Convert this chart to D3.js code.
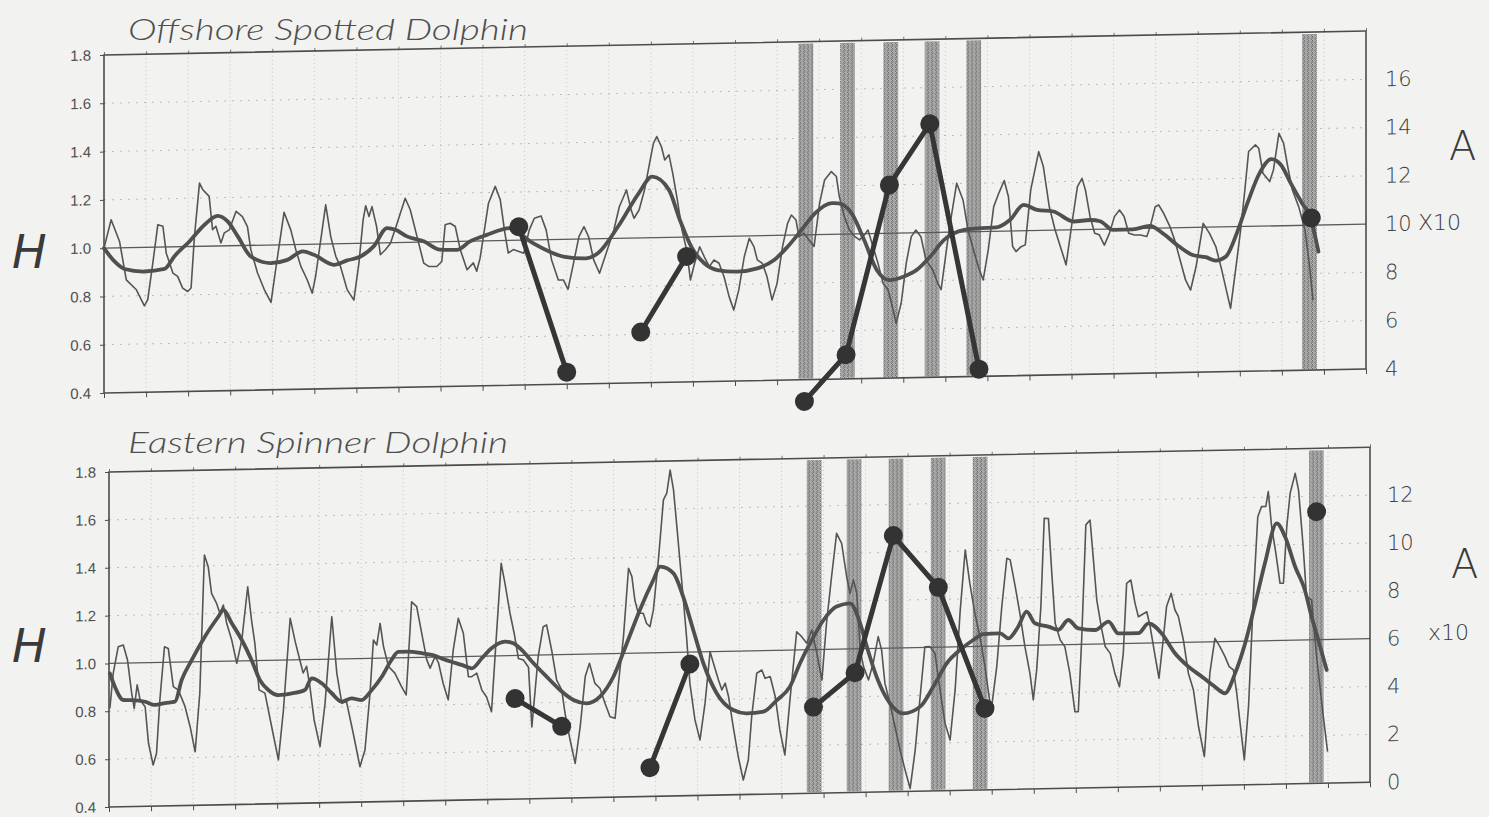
<!DOCTYPE html>
<html><head><meta charset="utf-8">
<script src="https://cdn.jsdelivr.net/npm/d3@7"></script>
<style>
html,body{margin:0;padding:0;background:#f2f2f0;}
svg{display:block;}
</style></head><body>
<svg id="chart" width="1489" height="817"></svg>
<script>
// ---------------- DATA (t = years from start of record, H = index) ----------------
const yTicks = [0.4, 0.6, 0.8, 1.0, 1.2, 1.4, 1.6, 1.8];
const gridH = [0.6, 0.8, 1.2, 1.4, 1.6];
const yearTicks = d3.range(0, 31);
const rightTicksTop = [4, 6, 8, 10, 12, 14, 16];
const rightTicksBottom = [0, 2, 4, 6, 8, 10, 12];
const bandStartsTop = [16.51, 17.5, 18.53, 19.51, 20.5, 28.48];
const bandStartsBottom = [16.6, 17.55, 18.55, 19.55, 20.55, 28.55];
const bandWidth = 0.35;

// Offshore spotted dolphin: monthly index (thin)
const spottedMonthly = [[0,1.00],[0.17,1.117],[0.37,1.026],[0.53,0.867],[0.77,0.825],[0.96,0.758],[1.04,0.783],[1.16,0.934],[1.28,1.093],[1.40,1.086],[1.48,0.974],[1.64,0.891],[1.75,0.877],[1.87,0.828],[1.99,0.814],[2.07,0.828],[2.15,1.041],[2.27,1.262],[2.35,1.234],[2.50,1.206],[2.58,1.068],[2.66,1.082],[2.78,1.012],[2.86,1.054],[2.98,1.066],[3.14,1.142],[3.29,1.12],[3.41,1.078],[3.49,0.982],[3.65,0.885],[3.81,0.816],[3.97,0.762],[4.08,0.897],[4.28,1.134],[4.44,1.061],[4.56,0.978],[4.68,0.909],[4.83,0.853],[4.95,0.797],[5.03,0.866],[5.27,1.162],[5.39,1.03],[5.51,0.948],[5.62,0.906],[5.78,0.809],[5.94,0.765],[6.06,0.918],[6.16,1.097],[6.22,1.155],[6.30,1.11],[6.37,1.151],[6.48,1.068],[6.57,0.951],[6.69,0.971],[6.81,0.998],[6.97,1.081],[7.16,1.183],[7.28,1.135],[7.44,1.024],[7.60,0.913],[7.72,0.899],[7.91,0.898],[8.03,0.918],[8.11,1.07],[8.23,1.076],[8.35,1.062],[8.47,0.965],[8.63,0.882],[8.78,0.91],[8.86,0.875],[8.94,0.929],[9.02,1.019],[9.14,1.156],[9.30,1.225],[9.42,1.169],[9.53,1.031],[9.61,0.948],[9.73,0.962],[9.98,0.946],[10.11,1.042],[10.23,1.09],[10.39,1.099],[10.51,1.041],[10.64,0.916],[10.80,0.832],[10.92,0.832],[11.03,0.793],[11.16,0.90],[11.29,1.01],[11.41,1.051],[11.52,1.009],[11.64,0.913],[11.78,0.857],[11.91,0.925],[12.12,1.035],[12.25,1.131],[12.42,1.20],[12.53,1.117],[12.60,1.082],[12.72,1.116],[12.85,1.199],[12.97,1.309],[13.06,1.391],[13.14,1.419],[13.25,1.377],[13.33,1.321],[13.43,1.342],[13.52,1.265],[13.63,1.154],[13.74,1.03],[13.85,0.947],[13.94,0.822],[14.04,0.891],[14.16,0.959],[14.27,0.917],[14.39,0.876],[14.50,0.903],[14.62,0.889],[14.74,0.833],[14.86,0.75],[14.97,0.694],[15.09,0.777],[15.22,0.914],[15.34,0.99],[15.45,0.955],[15.53,0.90],[15.65,0.885],[15.76,0.83],[15.88,0.733],[16.0,0.801],[16.13,0.953],[16.25,1.049],[16.34,1.083],[16.45,1.062],[16.52,0.993],[16.64,1.007],[16.76,0.978],[16.88,0.951],[17.01,1.129],[17.13,1.226],[17.29,1.26],[17.41,1.239],[17.48,1.156],[17.60,1.072],[17.72,1.017],[17.84,0.99],[17.96,0.975],[18.08,0.996],[18.16,1.015],[18.28,0.946],[18.40,0.876],[18.52,0.793],[18.64,0.765],[18.76,0.682],[18.83,0.626],[18.95,0.709],[19.07,0.874],[19.19,0.984],[19.30,1.011],[19.42,0.983],[19.54,0.886],[19.70,0.845],[19.82,0.789],[19.90,0.762],[20.09,1.009],[20.27,1.202],[20.42,1.132],[20.54,1.007],[20.69,0.91],[20.81,0.841],[20.90,0.799],[21.02,0.923],[21.15,1.102],[21.27,1.157],[21.40,1.209],[21.50,1.142],[21.60,0.935],[21.68,0.914],[21.80,0.934],[21.90,0.941],[22.03,1.168],[22.22,1.326],[22.33,1.264],[22.47,1.098],[22.61,1.0],[22.76,0.917],[22.87,0.855],[23.01,1.027],[23.14,1.178],[23.25,1.212],[23.33,1.164],[23.44,1.053],[23.55,0.984],[23.66,0.977],[23.78,0.934],[23.90,0.982],[24.02,1.051],[24.14,1.078],[24.25,1.051],[24.36,0.981],[24.48,0.974],[24.64,0.973],[24.79,0.966],[24.87,1.007],[24.99,1.089],[25.07,1.096],[25.19,1.061],[25.34,1.005],[25.45,0.95],[25.56,0.88],[25.71,0.783],[25.83,0.741],[25.96,0.837],[26.13,1.016],[26.28,0.974],[26.43,0.919],[26.57,0.822],[26.68,0.738],[26.78,0.662],[26.92,0.848],[27.02,0.986],[27.12,1.151],[27.21,1.31],[27.37,1.337],[27.45,1.323],[27.55,1.219],[27.71,1.184],[27.80,1.232],[27.93,1.383],[28.04,1.342],[28.14,1.244],[28.25,1.147],[28.40,1.078],[28.55,0.981],[28.65,0.842],[28.74,0.69]];

// Offshore spotted dolphin: smoothed index (thick)
const spottedSmooth = [[0,1.0],[0.25,0.944],[0.49,0.912],[0.96,0.90],[1.44,0.909],[1.67,0.96],[2.03,1.021],[2.39,1.089],[2.70,1.125],[2.94,1.101],[3.18,1.038],[3.49,0.954],[3.97,0.925],[4.36,0.937],[4.72,0.971],[4.99,0.956],[5.47,0.913],[5.78,0.93],[6.10,0.945],[6.41,0.986],[6.73,1.061],[6.93,1.053],[7.20,1.025],[7.60,1.003],[7.99,0.967],[8.39,0.965],[8.70,0.999],[9.10,1.025],[9.65,1.051],[10.17,0.99],[10.95,0.928],[11.46,0.92],[11.74,0.94],[12.22,1.049],[12.71,1.185],[13.03,1.253],[13.43,1.197],[13.69,1.071],[13.96,0.96],[14.27,0.89],[14.58,0.861],[15.05,0.853],[15.53,0.865],[15.93,0.898],[16.25,0.952],[16.58,1.02],[16.90,1.088],[17.30,1.129],[17.46,1.128],[17.77,1.086],[18.07,0.974],[18.37,0.849],[18.68,0.806],[19.0,0.819],[19.32,0.846],[19.64,0.90],[19.97,0.968],[20.45,1.008],[20.76,1.013],[21.22,1.016],[21.54,1.046],[21.86,1.107],[22.18,1.085],[22.57,1.077],[23.05,1.034],[23.44,1.039],[23.68,1.033],[23.99,0.996],[24.46,0.997],[24.86,1.01],[25.17,0.978],[25.56,0.922],[25.88,0.886],[26.19,0.876],[26.43,0.861],[26.67,0.877],[26.93,0.973],[27.18,1.096],[27.47,1.22],[27.75,1.277],[27.98,1.252],[28.21,1.176],[28.48,1.092],[28.67,1.036],[28.87,0.89]];

// Offshore spotted dolphin: abundance A (x10), survey groups
const spottedAbundance = [
  [[9.86,10.56],[11.0,4.5]],
  [[12.76,6.1],[13.85,9.2]],
  [[16.65,3.1],[17.64,5.0],[18.67,12.0],[19.63,14.5],[20.8,4.3]],
  [[28.7,10.3]]
];

// Eastern spinner dolphin: monthly index (thin)
const spinnerMonthly = [[0.02,0.812],[0.10,0.958],[0.22,1.069],[0.34,1.076],[0.44,1.013],[0.54,0.873],[0.60,0.81],[0.67,0.908],[0.74,0.845],[0.86,0.816],[0.94,0.663],[1.05,0.572],[1.13,0.62],[1.21,0.843],[1.32,1.065],[1.41,1.058],[1.53,0.898],[1.65,0.883],[1.81,0.813],[1.93,0.729],[2.05,0.624],[2.16,0.868],[2.27,1.445],[2.36,1.396],[2.44,1.284],[2.56,1.242],[2.64,1.20],[2.72,1.235],[2.80,1.158],[2.92,1.088],[3.04,0.99],[3.16,1.087],[3.30,1.309],[3.39,1.17],[3.47,1.072],[3.57,0.877],[3.71,0.863],[3.87,0.722],[4.03,0.583],[4.15,0.791],[4.31,1.174],[4.43,1.076],[4.54,0.999],[4.62,0.944],[4.70,0.972],[4.78,0.886],[4.88,0.747],[5.02,0.635],[5.14,0.816],[5.30,1.177],[5.42,0.94],[5.54,0.814],[5.65,0.821],[5.81,0.688],[5.97,0.548],[6.09,0.617],[6.21,0.854],[6.29,1.076],[6.37,1.055],[6.45,1.145],[6.53,1.048],[6.65,0.964],[6.80,0.936],[6.96,0.879],[7.07,0.844],[7.12,0.99],[7.20,1.233],[7.32,1.212],[7.44,1.10],[7.56,0.989],[7.64,0.954],[7.76,1.003],[7.84,0.975],[7.95,0.889],[8.07,0.82],[8.19,1.028],[8.31,1.16],[8.43,1.097],[8.55,0.915],[8.63,0.915],[8.75,0.929],[8.87,0.858],[8.98,0.83],[9.10,0.767],[9.22,1.094],[9.33,1.386],[9.42,1.302],[9.54,1.177],[9.64,1.092],[9.74,0.987],[9.86,0.98],[9.98,0.95],[10.06,0.70],[10.21,0.993],[10.33,1.118],[10.41,1.125],[10.53,1.02],[10.65,0.894],[10.77,0.852],[10.85,0.754],[10.97,0.642],[11.09,0.544],[11.21,0.697],[11.33,0.906],[11.43,0.961],[11.56,0.877],[11.68,0.856],[11.80,0.793],[11.92,0.736],[12.04,0.729],[12.12,0.875],[12.24,1.07],[12.36,1.355],[12.44,1.32],[12.51,1.222],[12.59,1.167],[12.71,1.166],[12.79,1.123],[12.87,1.109],[12.95,1.178],[13.07,1.387],[13.19,1.638],[13.27,1.666],[13.35,1.762],[13.43,1.679],[13.51,1.525],[13.63,1.288],[13.74,1.065],[13.82,0.869],[13.94,0.716],[14.06,0.632],[14.18,0.784],[14.30,1.0],[14.38,0.951],[14.50,0.881],[14.58,0.839],[14.66,0.867],[14.74,0.81],[14.85,0.685],[14.97,0.559],[15.09,0.461],[15.21,0.544],[15.29,0.725],[15.41,0.906],[15.53,0.919],[15.61,0.884],[15.73,0.891],[15.85,0.807],[15.96,0.667],[16.08,0.562],[16.20,0.791],[16.36,1.076],[16.48,1.055],[16.60,1.027],[16.72,1.082],[16.84,0.984],[16.96,0.872],[17.07,1.109],[17.19,1.303],[17.31,1.484],[17.43,1.442],[17.55,1.302],[17.63,1.232],[17.71,1.288],[17.79,1.232],[17.87,0.995],[17.95,0.925],[18.07,0.869],[18.18,0.938],[18.30,1.049],[18.38,0.993],[18.46,0.853],[18.58,0.769],[18.70,0.671],[18.82,0.573],[18.94,0.489],[19.06,0.412],[19.18,0.572],[19.29,0.781],[19.41,1.003],[19.53,1.003],[19.65,0.975],[19.77,0.821],[19.89,0.681],[20.01,0.611],[20.13,0.82],[20.25,1.15],[20.37,1.404],[20.48,1.264],[20.60,1.138],[20.72,1.041],[20.84,0.915],[20.96,0.761],[21.0,0.747],[21.12,0.914],[21.24,1.164],[21.36,1.366],[21.44,1.359],[21.56,1.247],[21.67,1.135],[21.79,0.995],[21.91,0.883],[21.99,0.772],[22.07,0.897],[22.17,1.161],[22.25,1.53],[22.35,1.529],[22.43,1.299],[22.51,1.09],[22.63,1.02],[22.74,0.992],[22.86,0.88],[22.98,0.719],[23.06,0.719],[23.14,1.018],[23.24,1.499],[23.34,1.519],[23.42,1.352],[23.50,1.184],[23.62,1.059],[23.70,0.989],[23.82,0.96],[23.93,0.876],[24.04,0.82],[24.13,0.959],[24.21,1.251],[24.31,1.265],[24.41,1.167],[24.49,1.111],[24.69,1.131],[24.77,1.068],[24.89,0.943],[24.98,0.852],[25.08,1.012],[25.16,1.151],[25.27,1.206],[25.36,1.136],[25.44,1.109],[25.56,1.01],[25.68,0.87],[25.80,0.80],[25.92,0.647],[26.06,0.521],[26.19,0.869],[26.31,1.014],[26.43,0.979],[26.55,0.937],[26.65,0.895],[26.75,0.881],[26.83,0.783],[26.91,0.657],[27.01,0.504],[27.11,0.726],[27.23,1.199],[27.33,1.519],[27.42,1.561],[27.52,1.561],[27.58,1.623],[27.66,1.476],[27.76,1.365],[27.86,1.239],[27.94,1.239],[28.02,1.475],[28.10,1.614],[28.22,1.697],[28.30,1.627],[28.41,1.39],[28.49,1.181],[28.61,1.167],[28.73,0.929],[28.81,0.804],[28.89,0.678],[28.99,0.532]];

// Eastern spinner dolphin: smoothed index (thick)
const spinnerSmooth = [[0.02,0.958],[0.14,0.902],[0.34,0.846],[0.54,0.845],[0.86,0.837],[1.09,0.823],[1.33,0.83],[1.57,0.835],[1.73,0.925],[1.97,1.008],[2.28,1.104],[2.6,1.186],[2.72,1.214],[2.92,1.158],[3.16,1.087],[3.39,1.003],[3.59,0.918],[3.79,0.876],[4.03,0.854],[4.35,0.86],[4.66,0.873],[4.82,0.921],[5.06,0.9],[5.3,0.857],[5.54,0.821],[5.77,0.834],[6.01,0.826],[6.25,0.867],[6.49,0.922],[6.72,0.991],[6.88,1.025],[7.12,1.025],[7.44,1.017],[7.68,1.009],[7.91,0.994],[8.15,0.979],[8.39,0.965],[8.63,0.95],[8.87,0.991],[9.1,1.032],[9.42,1.059],[9.62,1.051],[9.78,1.029],[10.1,0.966],[10.41,0.909],[10.73,0.852],[11.05,0.809],[11.37,0.794],[11.68,0.821],[12.0,0.903],[12.32,1.042],[12.63,1.18],[12.95,1.304],[13.11,1.359],[13.43,1.33],[13.66,1.232],[13.9,1.092],[14.14,0.952],[14.46,0.825],[14.85,0.754],[15.17,0.739],[15.57,0.745],[15.89,0.792],[16.2,0.847],[16.44,0.944],[16.68,1.027],[17.0,1.123],[17.31,1.178],[17.63,1.19],[17.87,1.106],[18.03,1.008],[18.26,0.882],[18.58,0.769],[18.9,0.726],[19.3,0.753],[19.61,0.835],[19.93,0.932],[20.25,0.987],[20.56,1.027],[20.8,1.051],[21.2,1.053],[21.4,1.031],[21.63,1.079],[21.83,1.141],[22.03,1.092],[22.35,1.077],[22.59,1.063],[22.82,1.103],[23.06,1.067],[23.46,1.059],[23.78,1.093],[24.01,1.043],[24.25,1.042],[24.49,1.042],[24.73,1.082],[25.04,1.04],[25.36,0.955],[25.68,0.898],[26.0,0.855],[26.31,0.812],[26.55,0.784],[26.79,0.866],[27.03,0.991],[27.27,1.157],[27.5,1.324],[27.78,1.49],[27.98,1.433],[28.22,1.307],[28.45,1.209],[28.61,1.097],[28.77,0.999],[28.97,0.873]];

// Eastern spinner dolphin: abundance A (x10), survey groups
const spinnerAbundance = [
  [[9.66,4.2],[10.77,3.0]],
  [[12.87,1.2],[13.82,5.5]],
  [[16.76,3.6],[17.75,5.0],[18.66,10.7],[19.73,8.5],[20.84,3.4]],
  [[28.73,11.35]]
];

// ---------------- DRAWING ----------------
const svg = d3.select("#chart");
svg.append("rect").attr("width", 1489).attr("height", 817).attr("fill", "#f2f2f0");

const defs = svg.append("defs");
const pat = defs.append("pattern").attr("id", "stipple")
  .attr("width", 4).attr("height", 4).attr("patternUnits", "userSpaceOnUse");
const shades = ["#5e5e5e","#a6a6a6","#7a7a7a","#bababa",
                "#989898","#6a6a6a","#b2b2b2","#848484",
                "#767676","#aeaeae","#626262","#9a9a9a",
                "#bebebe","#888888","#a2a2a2","#6e6e6e"];
shades.forEach((c, i) => {
  pat.append("rect").attr("x", i % 4).attr("y", Math.floor(i / 4))
    .attr("width", 1).attr("height", 1).attr("fill", c);
});

const ink = "#4c4c4c";

function drawPanel(cfg) {
  const W = cfg.width, H = cfg.height;
  const x = d3.scaleLinear().domain([0, 30]).range([0, W]);
  const y = d3.scaleLinear().domain([0.4, 1.8]).range([H, 0]);
  const yA = d3.scaleLinear().domain(cfg.aDomain).range([H, 0]);

  const g = svg.append("g")
    .attr("transform", `matrix(1,${-cfg.skew},0,1,${cfg.x0},${cfg.y0})`);

  // stippled bands
  g.selectAll("rect.band").data(cfg.bands).join("rect")
    .attr("class", "band")
    .attr("x", d => x(d)).attr("width", x(bandWidth) - x(0))
    .attr("y", 2).attr("height", H - 3)
    .attr("fill", "url(#stipple)");

  // dotted grid
  g.selectAll("line.vg").data(d3.range(1, 30)).join("line")
    .attr("class", "vg")
    .attr("x1", d => x(d)).attr("x2", d => x(d))
    .attr("y1", 0).attr("y2", H)
    .attr("stroke", "#9a9a9a").attr("stroke-width", 1)
    .attr("stroke-dasharray", "1 3").attr("opacity", 0.5);
  g.selectAll("line.hg").data(gridH).join("line")
    .attr("class", "hg")
    .attr("x1", 0).attr("x2", W)
    .attr("y1", d => y(d)).attr("y2", d => y(d))
    .attr("stroke", "#9a9a9a").attr("stroke-width", 1)
    .attr("stroke-dasharray", "2 6").attr("opacity", 0.6);

  // reference line at 1.0
  g.append("line").attr("x1", 0).attr("x2", W)
    .attr("y1", y(1)).attr("y2", y(1))
    .attr("stroke", "#5a5a5a").attr("stroke-width", 1.3);

  // axes
  const la = g.append("g").call(d3.axisLeft(y).tickValues(yTicks)
    .tickFormat(d3.format(".1f")).tickSize(4).tickPadding(9));
  la.select(".domain").remove();
  la.selectAll("line").attr("stroke", ink);
  la.selectAll("text").attr("font-family", "Liberation Sans, Arial, sans-serif")
    .attr("font-size", 15).attr("fill", "#505050");

  const ba = g.append("g").attr("transform", `translate(0,${H})`)
    .call(d3.axisBottom(x).tickValues(yearTicks).tickSize(5).tickFormat(""));
  ba.select(".domain").remove();
  ba.selectAll("line").attr("stroke", ink);

  const ta = g.append("g")
    .call(d3.axisTop(x).tickValues(yearTicks).tickSize(3).tickFormat(""));
  ta.select(".domain").remove();
  ta.selectAll("line").attr("stroke", "#777");

  // frame
  g.append("rect").attr("x", 0).attr("y", 0).attr("width", W).attr("height", H)
    .attr("fill", "none").attr("stroke", ink).attr("stroke-width", 1.6);

  // handwritten right axis (A x10)
  const ra = g.append("g").attr("transform", `translate(${W},0)`)
    .call(d3.axisRight(yA).tickValues(cfg.aTicks).tickSize(0)
      .tickPadding(cfg.aPad).tickFormat(d3.format("d")));
  ra.select(".domain").remove();
  ra.selectAll("text").attr("font-family", "DejaVu Sans, sans-serif")
    .attr("font-size", 21).attr("font-weight", 300).attr("fill", "#3c3c3c");

  // monthly (thin) line
  g.append("path").datum(cfg.monthly)
    .attr("d", d3.line().x(d => x(d[0])).y(d => y(d[1])))
    .attr("fill", "none").attr("stroke", "#555").attr("stroke-width", 1.6)
    .attr("stroke-linejoin", "round");

  // smoothed (thick) line
  g.append("path").datum(cfg.smooth)
    .attr("d", d3.line().curve(d3.curveMonotoneX).x(d => x(d[0])).y(d => y(d[1])))
    .attr("fill", "none").attr("stroke", "#505050").attr("stroke-width", 3.8)
    .attr("stroke-linejoin", "round").attr("stroke-linecap", "round");

  // abundance segments and dots
  const lineA = d3.line().x(d => x(d[0])).y(d => yA(d[1]));
  cfg.abundance.forEach(seg => {
    if (seg.length > 1) {
      g.append("path").datum(seg).attr("d", lineA)
        .attr("fill", "none").attr("stroke", "#363636").attr("stroke-width", 5)
        .attr("stroke-linejoin", "round");
    }
    g.selectAll(null).data(seg).join("circle")
      .attr("cx", d => x(d[0])).attr("cy", d => yA(d[1])).attr("r", 9.5)
      .attr("fill", "#333");
  });
}

drawPanel({
  x0: 104, y0: 55, width: 1262, height: 338, skew: 0.019,
  aDomain: [4, 18], aTicks: rightTicksTop, aPad: 19,
  bands: bandStartsTop,
  monthly: spottedMonthly, smooth: spottedSmooth, abundance: spottedAbundance
});
drawPanel({
  x0: 109, y0: 472, width: 1261, height: 335, skew: 0.0196,
  aDomain: [0, 14], aTicks: rightTicksBottom, aPad: 17,
  bands: bandStartsBottom,
  monthly: spinnerMonthly, smooth: spinnerSmooth, abundance: spinnerAbundance
});

// titles
svg.append("text").attr("x", 128).attr("y", 40)
  .attr("font-family", "Lato, 'Open Sans', sans-serif").attr("font-style", "italic")
  .attr("font-weight", 300)
  .attr("font-size", 30).attr("fill", "#4e4e4e")
  .attr("textLength", 400).attr("lengthAdjust", "spacingAndGlyphs")
  .text("Offshore Spotted Dolphin");
svg.append("text").attr("x", 128).attr("y", 453)
  .attr("font-family", "Lato, 'Open Sans', sans-serif").attr("font-style", "italic")
  .attr("font-weight", 300)
  .attr("font-size", 30).attr("fill", "#4e4e4e")
  .attr("textLength", 380).attr("lengthAdjust", "spacingAndGlyphs")
  .text("Eastern Spinner Dolphin");

// handwritten axis letters
const hand = [
  {t: "H", x: 12, y: 268, s: 46},
  {t: "H", x: 12, y: 662, s: 46},
  {t: "A", x: 1449, y: 160, s: 40},
  {t: "A", x: 1451, y: 578, s: 40},
  {t: "X10", x: 1418, y: 230, s: 22},
  {t: "x10", x: 1428, y: 640, s: 22}
];
svg.selectAll("text.hand").data(hand).join("text")
  .attr("class", "hand")
  .attr("x", d => d.x).attr("y", d => d.y)
  .attr("font-family", "DejaVu Sans, sans-serif").attr("font-weight", 300)
  .attr("font-style", d => d.t === "H" ? "italic" : "normal")
  .attr("font-size", d => d.s).attr("fill", "#3a3a3a")
  .text(d => d.t);
</script>
</body></html>
